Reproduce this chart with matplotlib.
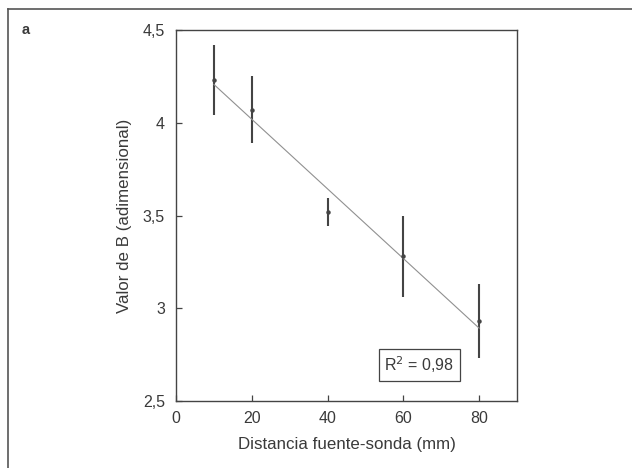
import numpy as np
import matplotlib.pyplot as plt
from matplotlib.lines import Line2D

# distancia fuente-sonda (mm) y valor de B
distancia = [10, 20, 40, 60, 80]
valor_b   = [4.23, 4.07, 3.52, 3.28, 2.93]
error_b   = [0.19, 0.18, 0.075, 0.22, 0.20]

x_ticks = [0, 20, 40, 60, 80]
y_ticks = [2.5, 3, 3.5, 4, 4.5]
y_tick_labels = ["2,5", "3", "3,5", "4", "4,5"]

txt = "#3a3a3a"
fs = 11.5
plt.rcParams["font.family"] = ["Liberation Sans", "DejaVu Sans"]

fig = plt.figure(figsize=(6.32, 4.68), dpi=100)
ax = fig.add_axes([176 / 632, 1 - 401 / 468, 341 / 632, 371 / 468])

ax.errorbar(distancia, valor_b, yerr=error_b, fmt="o", ms=2.2, color="#444444",
            ecolor="#444444", elinewidth=1.5, capsize=0)

# recta de regresion
m, b = np.polyfit(distancia, valor_b, 1)
xs = np.array([distancia[0], distancia[-1]])
ax.plot(xs, m * xs + b, color="#909090", lw=0.8)

ax.set_xlim(0, 90)
ax.set_ylim(2.5, 4.5)
ax.set_xticks(x_ticks)
ax.set_yticks(y_ticks)
ax.set_yticklabels(y_tick_labels)
ax.tick_params(direction="in", length=4, width=0.9, colors="#444444",
               labelcolor=txt, labelsize=fs)
ax.tick_params(axis="y", pad=8)
ax.tick_params(axis="x", pad=7)
for s in ax.spines.values():
    s.set_color("#444444")
    s.set_linewidth(1.0)

ax.set_xlabel("Distancia fuente-sonda (mm)", fontsize=12.2, color=txt, labelpad=8)
ax.set_ylabel("Valor de B (adimensional)", fontsize=12.2, color=txt, labelpad=8)

ax.text(0.713, 0.097, "R$^2$ = 0,98", transform=ax.transAxes, fontsize=fs,
        color=txt, ha="center", va="center",
        bbox=dict(boxstyle="square,pad=0.35", fc="white", ec="#444444", lw=0.9))

fig.text(22 / 632, 1 - 30 / 468, "a", fontsize=10.5, fontweight="bold", color=txt,
         ha="left", va="center")

# marco exterior
fig.add_artist(Line2D([8 / 632, 8 / 632], [0, 1 - 9 / 468], color="#555555", lw=1.2))
fig.add_artist(Line2D([8 / 632, 1], [1 - 9 / 468, 1 - 9 / 468], color="#555555", lw=1.2))

fig.savefig("out.png", dpi=100)
